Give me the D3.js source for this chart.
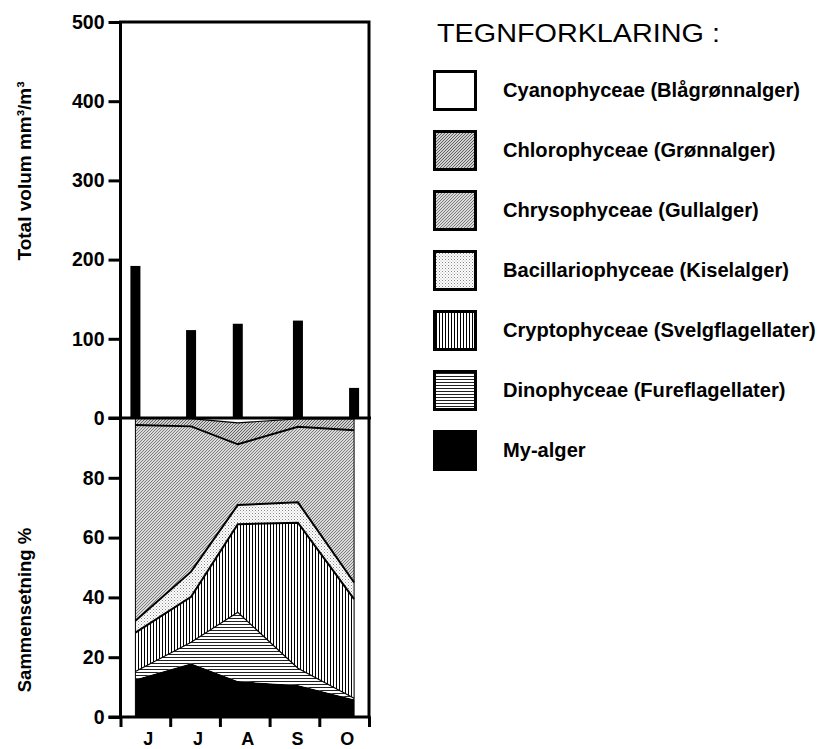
<!DOCTYPE html>
<html><head><meta charset="utf-8">
<script src="https://cdn.jsdelivr.net/npm/d3@7"></script>
<style>
body{margin:0;background:#fff;}
text{font-family:"Liberation Sans",Arial,Helvetica,sans-serif;}
</style></head>
<body><svg id="c" width="821" height="749"></svg>
<script>
// ---- data ----
const months = ["J","J","A","S","O"];
const samplePos = [0.30, 1.42, 2.36, 3.57, 4.70];   // sampling dates in month units (June = 0)
const totalVolume = [192, 111, 119, 123, 38];        // mm3/m3
const volumeTicks = [0,100,200,300,400,500];
const compTicks = [0,20,40,60,80];
const groups = ["Cyanophyceae (Blågrønnalger)","Chlorophyceae (Grønnalger)","Chrysophyceae (Gullalger)",
  "Bacillariophyceae (Kiselalger)","Cryptophyceae (Svelgflagellater)","Dinophyceae (Fureflagellater)","My-alger"];
const myAlger   = [12.6, 18.0, 12.0, 10.7, 5.9];
const dino      = [2.6, 7.0, 23.0, 5.6, 0.4];
const crypto    = [13.0, 15.2, 29.5, 48.7, 33.1];
const bacill    = [4.0, 8.4, 6.4, 6.8, 5.6];
const chryso    = [65.5, 48.6, 20.3, 25.3, 50.9];
const chloro    = [2.3, 2.6, 7.2, 2.6, 3.8];
const cyano     = [0.0, 0.2, 1.6, 0.3, 0.3];

const svg = d3.select("#c");
const defs = svg.append("defs");
// patterns
function pat(id,w,h,bg,draw){const p=defs.append("pattern").attr("id",id).attr("patternUnits","userSpaceOnUse").attr("width",w).attr("height",h);
  p.append("rect").attr("width",w).attr("height",h).attr("fill",bg); draw(p);}
pat("pChloro",3,3,"#d0d0d0",p=>p.append("path").attr("d","M-1,1L1,-1M0,3L3,0M2,4L4,2").attr("stroke","#555").attr("stroke-width",0.9));
pat("pChryso",3,3,"#dadada",p=>p.append("path").attr("d","M-1,1L1,-1M0,3L3,0M2,4L4,2").attr("stroke","#666").attr("stroke-width",0.8));
pat("pBacill",3,3,"#fff",p=>{p.append("rect").attr("x",0).attr("y",0).attr("width",1).attr("height",1).attr("fill","#888");
  p.append("rect").attr("x",1.5).attr("y",1.5).attr("width",1).attr("height",1).attr("fill","#aaa");});
pat("pCrypto",3,3,"#fff",p=>p.append("rect").attr("x",0).attr("y",0).attr("width",1).attr("height",3).attr("fill","#000"));
pat("pDino",3,3,"#fff",p=>p.append("rect").attr("x",0).attr("y",0).attr("width",3).attr("height",1).attr("fill","#222"));
const fills = {cyano:"#fff",chloro:"url(#pChloro)",chryso:"url(#pChryso)",bacill:"url(#pBacill)",crypto:"url(#pCrypto)",dino:"url(#pDino)",my:"#000"};

// scales
const x = d3.scaleLinear().domain([0,5]).range([120.5,369]);
const yTop = d3.scaleLinear().domain([0,500]).range([418,22]);
const yBot = d3.scaleLinear().domain([0,100]).range([717,418]);

// ---- top chart bars ----
svg.append("g").selectAll("rect").data(totalVolume).join("rect")
  .attr("x",(d,i)=>x(samplePos[i])-5).attr("width",10)
  .attr("y",d=>yTop(d)).attr("height",d=>yTop(0)-yTop(d)).attr("fill","#000");

// ---- bottom stacked area ----
const keys=["my","dino","crypto","bacill","chryso","chloro","cyano"];
const src={my:myAlger,dino:dino,crypto:crypto,bacill:bacill,chryso:chryso,chloro:chloro,cyano:cyano};
const rows = samplePos.map((p,i)=>{const r={pos:p}; keys.forEach(k=>r[k]=src[k][i]); return r;});
const series = d3.stack().keys(keys)(rows);
const area = d3.area().x(d=>x(d.data.pos)).y0(d=>yBot(d[0])).y1(d=>yBot(d[1]));
const line = d3.line().x(d=>x(d.data.pos)).y(d=>yBot(d[1]));
const gA = svg.append("g");
gA.selectAll("path.a").data(series).join("path").attr("class","a")
  .attr("d",area).attr("fill",d=>fills[d.key]).attr("stroke","none");
const lw={my:0,dino:1.2,crypto:2,bacill:2,chryso:2,chloro:1.2,cyano:0};
gA.selectAll("path.l").data(series.filter(s=>lw[s.key]>0)).join("path").attr("class","l")
  .attr("d",line).attr("fill","none").attr("stroke","#000").attr("stroke-width",d=>lw[d.key]);
// area side edges
[samplePos[0],samplePos[samplePos.length-1]].forEach(p=>{
  gA.append("line").attr("x1",x(p)).attr("x2",x(p)).attr("y1",yBot(0)).attr("y2",yBot(100)).attr("stroke","#000").attr("stroke-width",1);
});

// ---- axes & frame ----
const axTop = svg.append("g").attr("transform",`translate(${x(0)},0)`)
  .call(d3.axisLeft(yTop).tickValues(volumeTicks).tickSize(12).tickPadding(4));
const axBot = svg.append("g").attr("transform",`translate(${x(0)},0)`)
  .call(d3.axisLeft(yBot).tickValues(compTicks).tickSize(12).tickPadding(4));
const axX = svg.append("g").attr("transform",`translate(0,${yBot(0)})`)
  .call(d3.axisBottom(x).tickValues([0,1,2,3,4,5]).tickSize(10).tickFormat(""));
[axTop,axBot,axX].forEach(g=>{
  g.select(".domain").remove();
  g.selectAll(".tick line").attr("stroke","#000").attr("stroke-width",3);
  g.selectAll("text").attr("font-size",19.5).attr("font-weight","bold").attr("fill","#000");
});
// frame lines
const fr = svg.append("g").attr("stroke","#000").attr("stroke-width",3).attr("fill","none");
fr.append("path").attr("d",`M${x(0)},${yBot(0)}V${yTop(500)}H${x(5)}V${yBot(0)}`);
fr.append("line").attr("x1",x(0)-12).attr("x2",x(5)+2).attr("y1",yTop(0)).attr("y2",yTop(0));
fr.append("line").attr("x1",x(0)-12).attr("x2",x(5)+1.5).attr("y1",yBot(0)).attr("y2",yBot(0));

// month labels
svg.append("g").selectAll("text").data(months).join("text")
  .attr("x",(d,i)=>(x(i)+x(i+1))/2+3).attr("y",745).attr("text-anchor","middle")
  .attr("font-size",18).attr("font-weight","bold").text(d=>d);

// axis titles
svg.append("text").attr("transform","translate(31,171) rotate(-90)").attr("text-anchor","middle")
  .attr("font-size",19).attr("font-weight","bold").text("Total volum mm³/m³");
svg.append("text").attr("transform","translate(31,610) rotate(-90)").attr("text-anchor","middle")
  .attr("font-size",18.5).attr("font-weight","bold").text("Sammensetning %");

// ---- legend ----
svg.append("text").attr("x",437).attr("y",42).attr("font-size",25).attr("textLength",283).attr("lengthAdjust","spacingAndGlyphs").text("TEGNFORKLARING :");
const legKeys=["cyano","chloro","chryso","bacill","crypto","dino","my"];
const lg = svg.append("g").selectAll("g").data(groups).join("g")
  .attr("transform",(d,i)=>`translate(433,${70+i*60})`);
lg.append("rect").attr("x",1.5).attr("y",1.5).attr("width",41).attr("height",38)
  .attr("fill",(d,i)=>fills[legKeys[i]]).attr("stroke","#000").attr("stroke-width",3);
lg.append("text").attr("x",70).attr("y",20).attr("dy","0.35em").attr("font-size",20.1).attr("font-weight","bold").text(d=>d);
</script></body></html>
